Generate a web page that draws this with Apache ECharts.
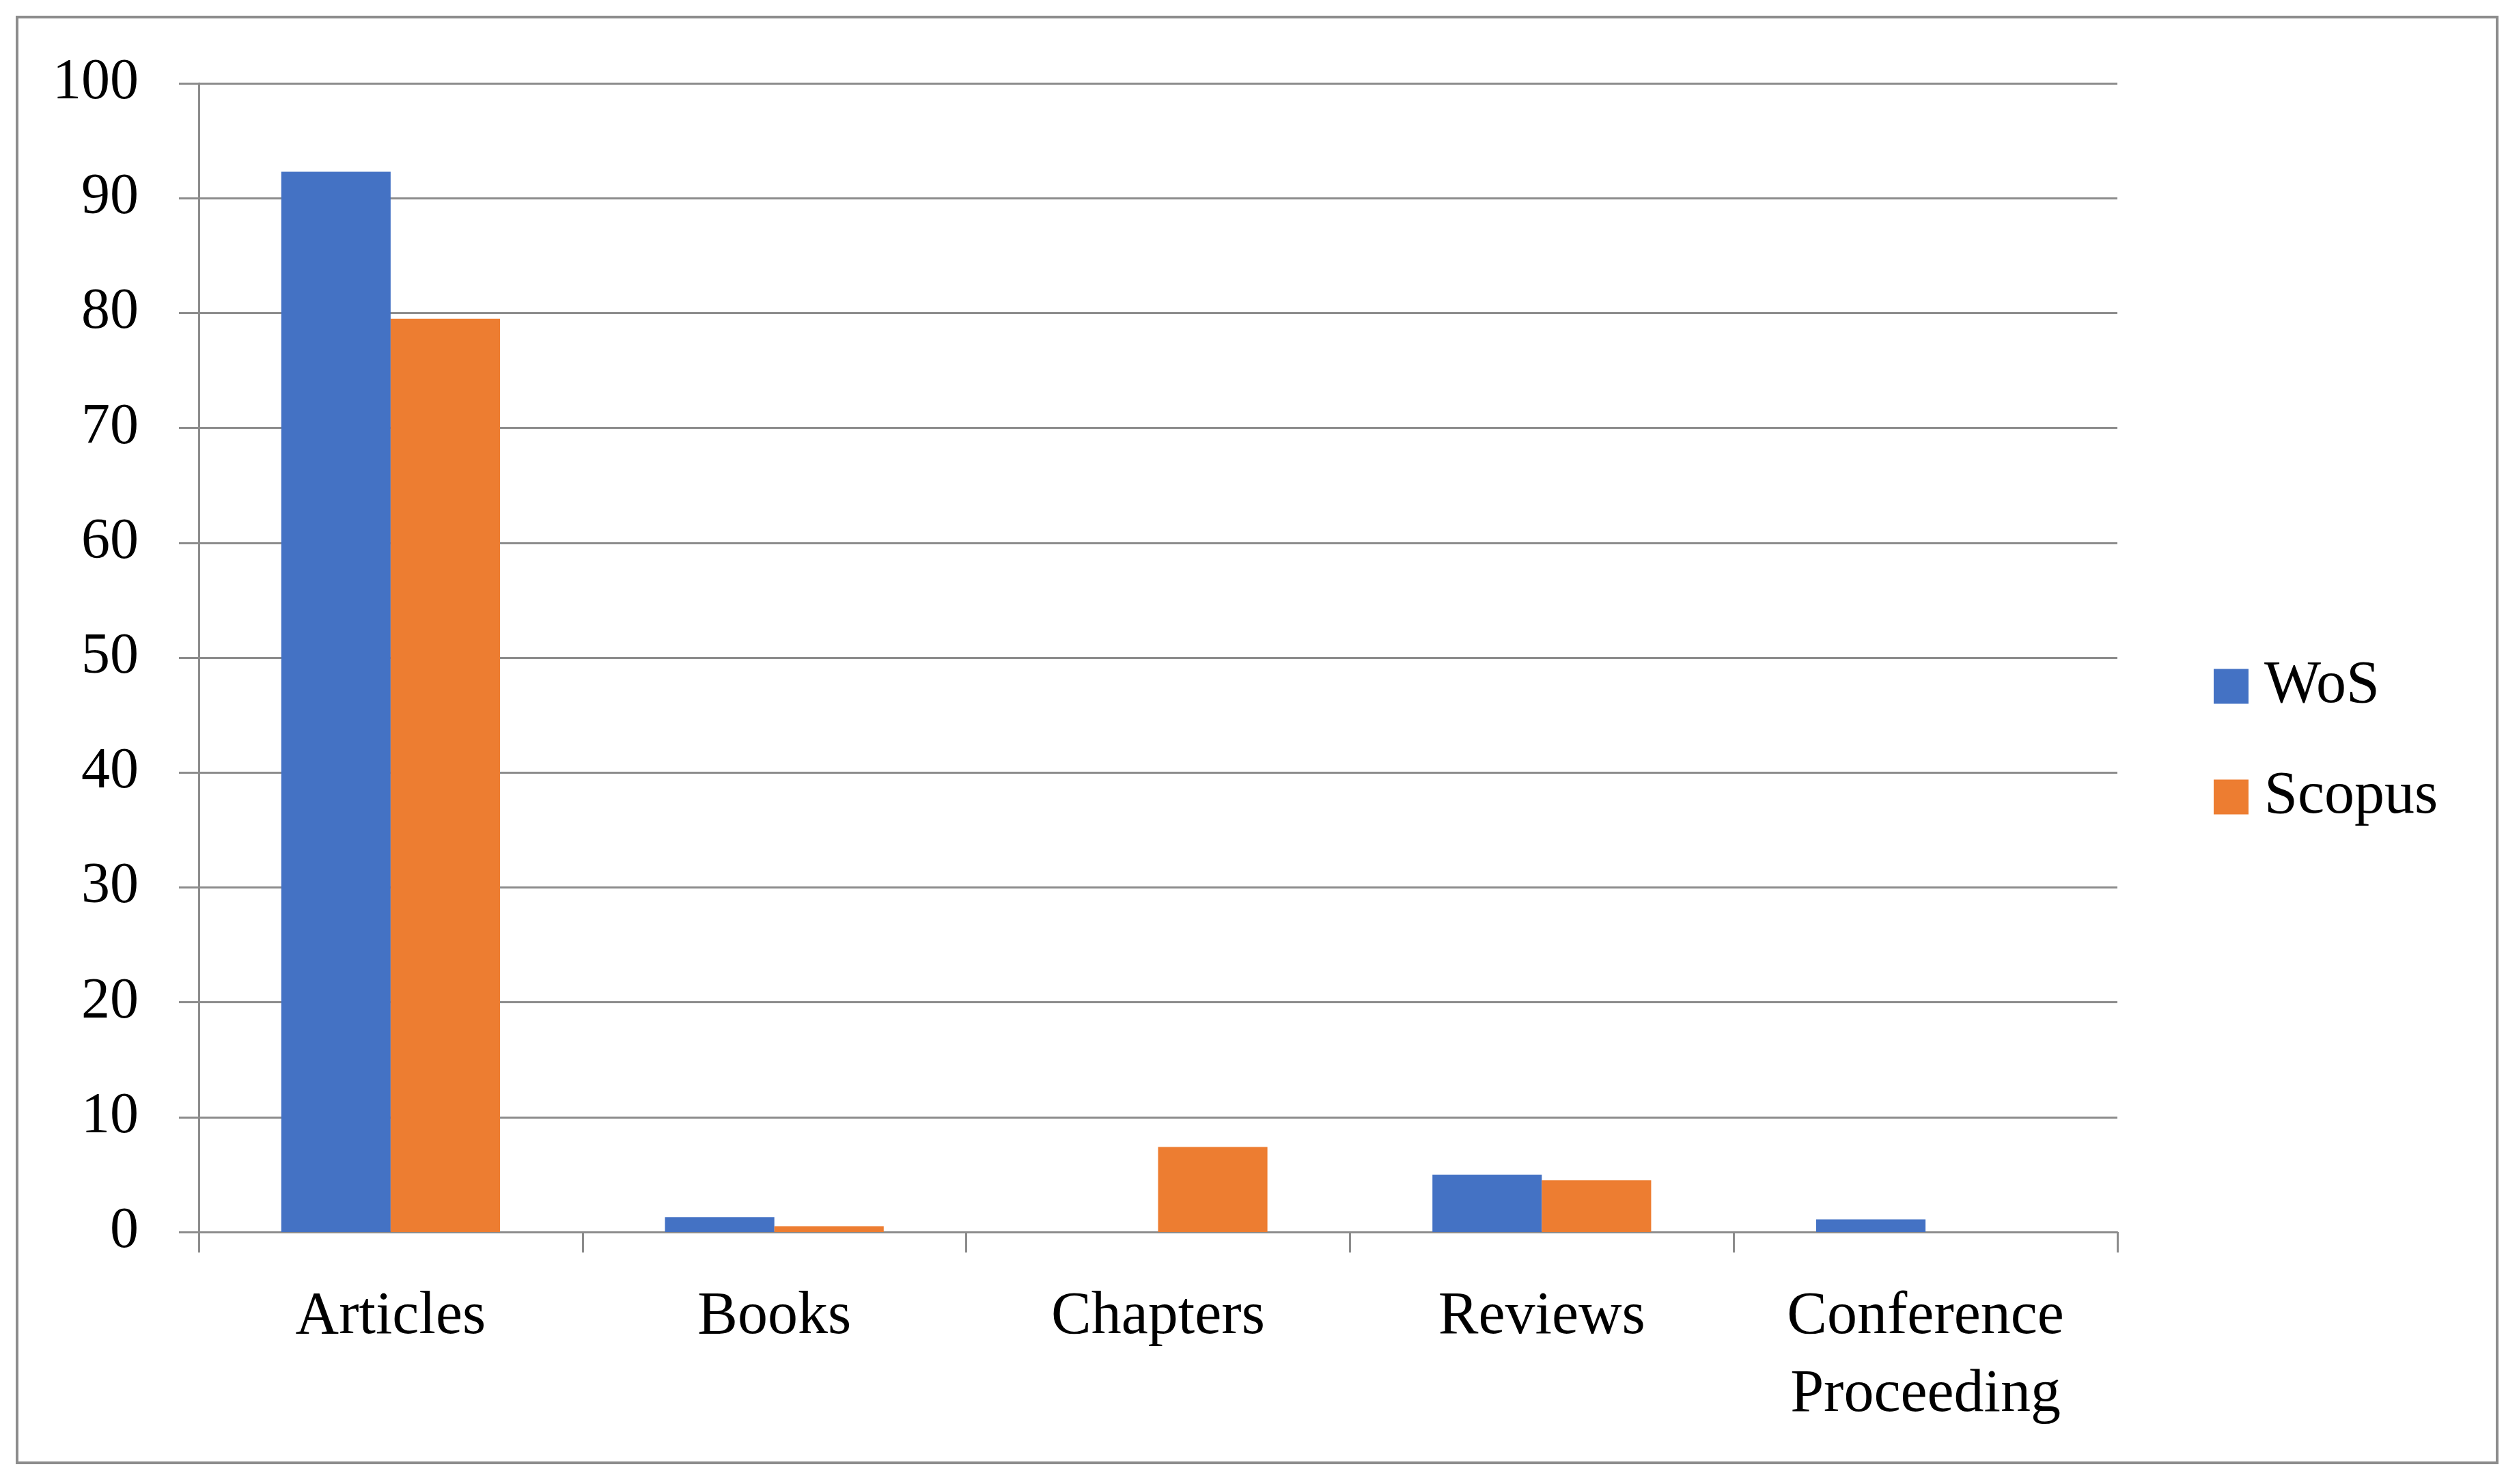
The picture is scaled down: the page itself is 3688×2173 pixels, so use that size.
<!DOCTYPE html>
<html>
<head>
<meta charset="utf-8">
<script src="https://cdn.jsdelivr.net/npm/echarts@6/dist/echarts.min.js"></script>
<style>html,body{margin:0;padding:0;background:#fff;}#c{width:3688px;height:2173px;}</style>
</head>
<body>
<div id="c"></div>
<script>
const categories = ['Articles', 'Books', 'Chapters', 'Reviews', 'Conference\nProceeding'];
const wosValues = [92.3, 1.3, 0, 5.0, 1.1];
const scopusValues = [79.5, 0.5, 7.4, 4.5, 0];
const seriesNames = ['WoS', 'Scopus'];

const FONT = '"Liberation Serif", "DejaVu Serif", serif';
const GRAY = '#8c8c8c';
const chart = echarts.init(document.getElementById('c'));
chart.setOption({
  backgroundColor: '#fff',
  animation: false,
  graphic: [{
    type: 'rect',
    shape: { x: 25, y: 25, width: 3631, height: 2117 },
    style: { fill: 'none', stroke: GRAY, lineWidth: 4 },
    silent: true
  }],
  grid: { left: 291, right: 588, top: 122, bottom: 369, containLabel: false },
  legend: {
    orient: 'vertical',
    left: 3236,
    top: 956,
    itemWidth: 51,
    itemHeight: 51,
    itemGap: 74,
    icon: 'rect',
    textStyle: { fontFamily: FONT, fontSize: 88, color: '#000', padding: [0, 0, 0, 18] },
    data: seriesNames
  },
  xAxis: {
    type: 'category',
    data: categories,
    axisLine: { show: true, lineStyle: { color: GRAY, width: 3 } },
    axisTick: { show: true, length: 30, lineStyle: { color: GRAY, width: 3 } },
    axisLabel: { fontFamily: FONT, fontSize: 88, color: '#000', margin: 68, lineHeight: 114, interval: 0 }
  },
  yAxis: {
    type: 'value',
    min: 0, max: 100, interval: 10,
    axisLine: { show: true, lineStyle: { color: GRAY, width: 3 } },
    axisTick: { show: true, length: 29, lineStyle: { color: GRAY, width: 3 } },
    axisLabel: { fontFamily: FONT, fontSize: 84, color: '#000', margin: 88 },
    splitLine: { show: true, lineStyle: { color: GRAY, width: 3 } }
  },
  series: [
    { name: seriesNames[0], type: 'bar', data: wosValues, itemStyle: { color: '#4472C4' }, barGap: '0%', barCategoryGap: '43%' },
    { name: seriesNames[1], type: 'bar', data: scopusValues, itemStyle: { color: '#ED7D31' }, barGap: '0%', barCategoryGap: '43%' }
  ]
});
</script>
</body>
</html>
